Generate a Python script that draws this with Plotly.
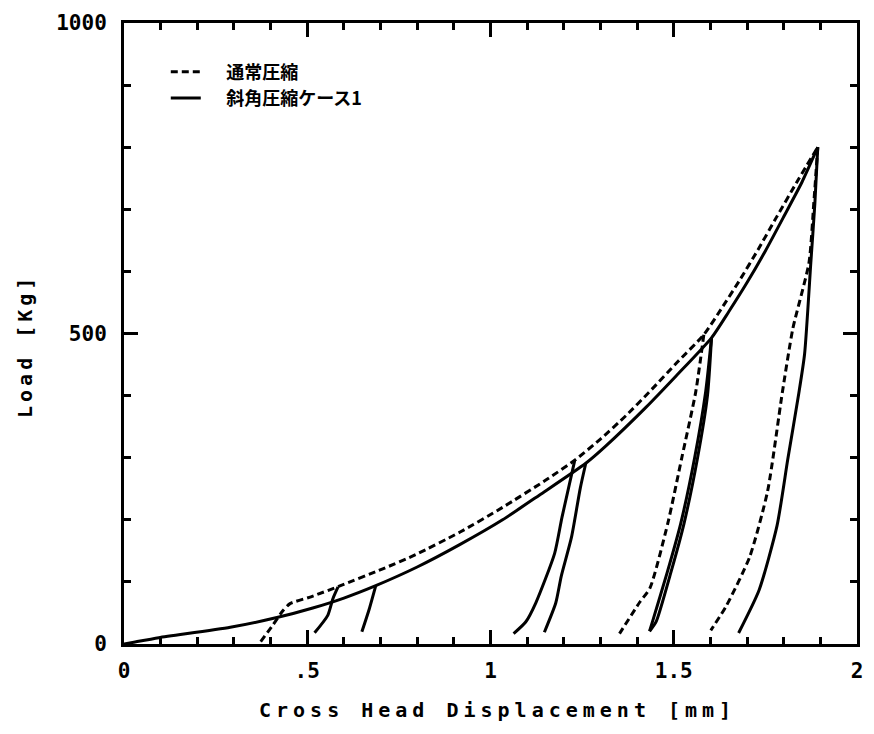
import plotly.graph_objects as go

# ---- data ----
normal_x = [0.373, 0.406, 0.434, 0.453, 0.510, 0.589, 0.706, 0.796, 0.916, 1.033,
            1.151, 1.230, 1.300, 1.370, 1.440, 1.510, 1.582, 1.630, 1.680, 1.730,
            1.780, 1.840, 1.893]
normal_y = [3.8, 30.4, 53.9, 65, 76, 93.5, 121, 144, 180, 220,
            264, 296, 330, 368, 410, 454, 498, 540, 586, 635,
            687, 748, 800]

oblique_x = [0, 0.027, 0.095, 0.290, 0.420, 0.515, 0.600, 0.687, 0.800, 0.916,
             1.033, 1.134, 1.260, 1.315, 1.424, 1.507, 1.603, 1.650, 1.700, 1.750,
             1.800, 1.850, 1.893]
oblique_y = [0, 2.9, 10.1, 26.9, 43, 58, 74, 94, 124, 160,
             200, 240, 291, 319, 381, 432, 493, 535, 582, 633,
             688, 744, 800]

# unloading / reloading branches
cyc1a_x = [0.584, 0.570, 0.556, 0.520]
cyc1a_y = [91.9, 73, 46.2, 18]
cyc1b_x = [0.687, 0.669, 0.649]
cyc1b_y = [94, 56, 19.7]
cyc2a_x = [1.230, 1.195, 1.175, 1.124, 1.096, 1.063]
cyc2a_y = [296, 204, 146, 66.8, 35.4, 16.7]
cyc2b_x = [1.260, 1.245, 1.221, 1.193, 1.178, 1.147]
cyc2b_y = [291, 251, 172, 109, 66, 19]
cyc3a_x = [1.582, 1.560, 1.522, 1.484, 1.435, 1.408, 1.352]
cyc3a_y = [498, 406, 300, 195, 90, 68, 16.7]
cyc3b_x = [1.603, 1.587, 1.557, 1.519, 1.482, 1.442, 1.434]
cyc3b_y = [493, 406, 300, 194, 115, 36, 20.5]
cyc3c_x = [1.603, 1.592, 1.565, 1.528, 1.492, 1.452, 1.434]
cyc3c_y = [493, 400, 300, 194, 115, 36, 20.5]
cyc4a_x = [1.893, 1.882, 1.869, 1.825, 1.796, 1.756, 1.707, 1.643, 1.601]
cyc4a_y = [800, 709, 614, 508, 404, 246, 140, 61, 21.9]
cyc4b_x = [1.893, 1.885, 1.874, 1.857, 1.841, 1.811, 1.782, 1.733, 1.677]
cyc4b_y = [800, 709, 614, 467, 403, 297, 191, 87, 17.8]

x_tickvals = [0, 0.5, 1, 1.5, 2]
x_ticktext = ["0", ".5", "1", "1.5", "2"]
x_minor_step = 0.1
y_tickvals = [0, 500, 1000]
y_ticktext = ["0", "500", "1000"]
y_minor_step = 100

name_normal = "通常圧縮"
name_oblique = "斜角圧縮ケース1"
x_title = "Cross Head Displacement [mm]"
y_title = "Load [Kg]"

# ---- figure ----
DASH = "7px,4px"
LW = 3
PAD = "\u00a0" * 5
fig = go.Figure()

fig.add_trace(go.Scatter(x=normal_x, y=normal_y, mode="lines",
                         name=PAD + name_normal, legendgroup="n",
                         line=dict(color="black", width=LW, dash=DASH, shape="spline", smoothing=0.6)))
fig.add_trace(go.Scatter(x=oblique_x, y=oblique_y, mode="lines",
                         name=PAD + name_oblique, legendgroup="o",
                         line=dict(color="black", width=LW, shape="spline", smoothing=0.6)))

branches = [
    (cyc1a_x, cyc1a_y, False), (cyc1b_x, cyc1b_y, False),
    (cyc2a_x, cyc2a_y, False), (cyc2b_x, cyc2b_y, False),
    (cyc3a_x, cyc3a_y, True), (cyc3b_x, cyc3b_y, False), (cyc3c_x, cyc3c_y, False),
    (cyc4a_x, cyc4a_y, True), (cyc4b_x, cyc4b_y, False),
]
for bx, by, dashed in branches:
    fig.add_trace(go.Scatter(x=bx, y=by, mode="lines", showlegend=False,
                             legendgroup="n" if dashed else "o",
                             line=dict(color="black", width=LW,
                                       dash=DASH if dashed else "solid",
                                       shape="spline", smoothing=0.6)))

tickfont = dict(family="DejaVu Sans Mono", size=21, color="black")
TICKC = "black"

fig.update_xaxes(range=[0, 2], showline=True, linewidth=3, linecolor="black",
                 mirror="allticks", ticks="inside", ticklen=14, tickwidth=3, tickcolor=TICKC,
                 showgrid=False, zeroline=False, tickfont=tickfont,
                 tickmode="array", tickvals=x_tickvals,
                 ticktext=["<b>%s</b>" % t for t in x_ticktext],
                 minor=dict(dtick=x_minor_step, ticks="inside", ticklen=7,
                            tickwidth=3, tickcolor=TICKC, showgrid=False),
                 ticklabelstandoff=6)
fig.update_yaxes(range=[0, 1000], showline=True, linewidth=3, linecolor="black",
                 mirror="allticks", ticks="inside", ticklen=14, tickwidth=3, tickcolor=TICKC,
                 showgrid=False, zeroline=False, tickfont=tickfont,
                 tickmode="array", tickvals=y_tickvals,
                 ticktext=["<b>%s</b>" % t for t in y_ticktext],
                 minor=dict(dtick=y_minor_step, ticks="inside", ticklen=7,
                            tickwidth=3, tickcolor=TICKC, showgrid=False),
                 ticklabelstandoff=10)

title_font = dict(family="DejaVu Sans Mono", size=20, color="black", weight="bold")
fig.add_annotation(text='<span style="letter-spacing:5px">%s</span>' % x_title,
                   xref="paper", yref="paper", x=0.51, y=-0.107,
                   xanchor="center", yanchor="middle", showarrow=False, font=title_font)
fig.add_annotation(text='<span style="letter-spacing:4px">%s</span>' % y_title,
                   xref="paper", yref="paper", x=-0.135, y=0.48, textangle=-90,
                   xanchor="center", yanchor="middle", showarrow=False, font=title_font)

fig.update_layout(
    width=874, height=734,
    margin=dict(l=124, r=11, t=12, b=90),
    paper_bgcolor="white", plot_bgcolor="white",
    showlegend=True,
    legend=dict(x=0.057, y=0.951, xanchor="left", yanchor="top",
                bgcolor="rgba(0,0,0,0)", borderwidth=0, tracegroupgap=0,
                font=dict(family="Noto Sans CJK JP", size=18, color="black", weight="bold")),
)

fig.write_html("out.html")
